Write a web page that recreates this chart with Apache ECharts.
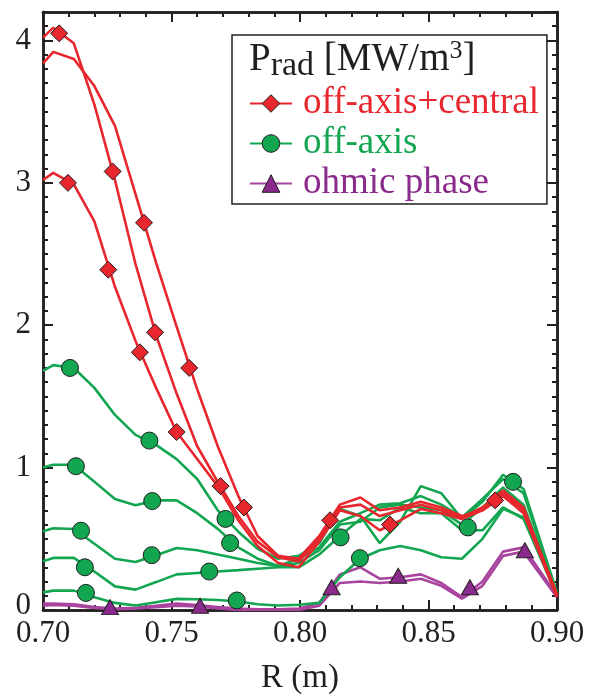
<!DOCTYPE html>
<html>
<head>
<meta charset="utf-8">
<script src="https://cdn.jsdelivr.net/npm/echarts@6/dist/echarts.min.js"></script>
<style>
  html, body { margin: 0; padding: 0; background: #fff; }
  #chart { width: 594px; height: 700px; }
</style>
</head>
<body>
<div id="chart"></div>
<script>
// Major radius grid (m) shared by every profile
const R = [0.700, 0.704, 0.712, 0.720, 0.728, 0.736, 0.744, 0.752, 0.760, 0.768, 0.776, 0.7835, 0.7915,
           0.7995, 0.8075, 0.8155, 0.8235, 0.831, 0.839, 0.847, 0.855, 0.863, 0.871, 0.879, 0.887, 0.900];

// Radiated power density profiles, MW/m^3 — off-axis + central heating
const centralA = [4.02, 4.09, 3.98, 3.55, 3.02, 2.43, 1.93, 1.52, 1.15, 0.90, 0.66, 0.48, 0.37,
                  0.34, 0.50, 0.72, 0.74, 0.66, 0.70, 0.74, 0.70, 0.65, 0.72, 0.84, 0.72, 0.10];
const centralB = [3.84, 3.92, 3.87, 3.68, 3.40, 2.92, 2.44, 1.99, 1.55, 1.15, 0.80, 0.52, 0.38,
                  0.36, 0.52, 0.74, 0.79, 0.70, 0.72, 0.76, 0.72, 0.66, 0.70, 0.82, 0.70, 0.11];
const centralC = [3.02, 3.07, 2.99, 2.73, 2.27, 1.89, 1.56, 1.25, 1.06, 0.87, 0.63, 0.45, 0.33,
                  0.30, 0.48, 0.70, 0.66, 0.56, 0.63, 0.71, 0.68, 0.64, 0.70, 0.80, 0.68, 0.09];

// off-axis heating only
const offAxis1 = [1.68, 1.72, 1.70, 1.56, 1.37, 1.23, 1.16, 1.06, 0.92, 0.70, 0.55, 0.43, 0.36,
                  0.38, 0.47, 0.71, 0.66, 0.47, 0.62, 0.87, 0.82, 0.64, 0.76, 0.95, 0.85, 0.12];
const offAxis2 = [1.00, 1.02, 1.02, 0.90, 0.78, 0.735, 0.77, 0.77, 0.68, 0.57, 0.44, 0.36, 0.31,
                  0.36, 0.44, 0.62, 0.68, 0.74, 0.75, 0.80, 0.74, 0.65, 0.78, 0.92, 0.82, 0.11];
const offAxis3 = [0.553, 0.574, 0.569, 0.465, 0.36, 0.337, 0.385, 0.435, 0.42, 0.39, 0.36, 0.33, 0.31,
                  0.33, 0.42, 0.60, 0.62, 0.72, 0.74, 0.72, 0.70, 0.60, 0.72, 0.86, 0.74, 0.10];
const offAxis4 = [0.343, 0.366, 0.366, 0.27, 0.166, 0.143, 0.196, 0.25, 0.26, 0.27, 0.28, 0.29, 0.30,
                  0.30, 0.39, 0.52, 0.64, 0.63, 0.72, 0.68, 0.68, 0.56, 0.56, 0.72, 0.64, 0.10];
const offAxis5 = [0.124, 0.136, 0.136, 0.09, 0.05, 0.032, 0.055, 0.078, 0.076, 0.07, 0.06, 0.04, 0.032,
                  0.037, 0.05, 0.23, 0.36, 0.42, 0.45, 0.42, 0.37, 0.36, 0.50, 0.71, 0.65, 0.12];

// ohmic phase
const ohmic1 = [0.045, 0.045, 0.04, 0.02, 0.01, 0.015, 0.03, 0.045, 0.035, 0.02, 0.01, 0.005, 0.005,
                0.01, 0.05, 0.25, 0.30, 0.22, 0.23, 0.25, 0.19, 0.09, 0.20, 0.41, 0.44, 0.10];
const ohmic2 = [0.03, 0.035, 0.03, 0.015, 0.005, 0.01, 0.02, 0.03, 0.025, 0.01, 0.0, 0.0, 0.0,
                0.0, 0.03, 0.19, 0.20, 0.19, 0.20, 0.22, 0.17, 0.08, 0.17, 0.38, 0.41, 0.09];

// Marker positions [R, P_rad] along the profiles
const diamondPts = [[0.7063, 4.05], [0.7097, 3.00], [0.7271, 3.08], [0.7254, 2.39], [0.7393, 2.72],
                    [0.7377, 1.81], [0.7436, 1.95], [0.7520, 1.25], [0.7569, 1.70], [0.7691, 0.87],
                    [0.7782, 0.72], [0.8117, 0.63], [0.8350, 0.60], [0.8759, 0.77]];
const circlePts = [[0.7105, 1.70], [0.7414, 1.19], [0.7710, 0.64], [0.7128, 1.01], [0.7425, 0.765],
                   [0.7728, 0.47], [0.7148, 0.557], [0.7423, 0.385], [0.7163, 0.30], [0.7647, 0.27],
                   [0.7167, 0.12], [0.7754, 0.067], [0.8158, 0.51], [0.8233, 0.364], [0.8653, 0.58],
                   [0.8829, 0.90]];
const trianglePts = [[0.7261, 0.02], [0.7611, 0.03], [0.8123, 0.16], [0.8382, 0.24], [0.8661, 0.16],
                     [0.8875, 0.42]];

// Axis tick values
const xMajorStep = 0.05, xMinorStep = 0.01;
const yMajorStep = 1, yMinorStep = 0.1;

const FONT = "'Liberation Serif', 'Times New Roman', serif";
const INK = '#231f20';
const RED = '#e8262d';
const GREEN = '#12a650';
const PURPLE_LINE = '#a8449e';
const PURPLE = '#8a2a8c';

const NAME_C = 'off-axis+central';
const NAME_O = 'off-axis';
const NAME_H = 'ohmic phase';

const toPairs = arr => R.map((r, i) => [r, arr[i]]);

function profile(name, values, color, symbol, fill) {
  return {
    type: 'line', name, data: toPairs(values),
    showSymbol: false, symbol, symbolSize: 17,
    lineStyle: { color, width: 2.6 },
    itemStyle: { color: fill, borderColor: INK, borderWidth: 1 },
    silent: true, z: 2
  };
}
function markers(name, pts, color, symbol, size) {
  return {
    type: 'scatter', name, data: pts, symbol, symbolSize: size,
    itemStyle: { color, borderColor: INK, borderWidth: 1, opacity: 1 },
    silent: true, z: 5
  };
}

const series = [
  profile(NAME_H, ohmic1, PURPLE_LINE, 'triangle', PURPLE),
  profile(NAME_H, ohmic2, PURPLE_LINE, 'triangle', PURPLE),
  profile(NAME_O, offAxis1, GREEN, 'circle', GREEN),
  profile(NAME_O, offAxis2, GREEN, 'circle', GREEN),
  profile(NAME_O, offAxis3, GREEN, 'circle', GREEN),
  profile(NAME_O, offAxis4, GREEN, 'circle', GREEN),
  profile(NAME_O, offAxis5, GREEN, 'circle', GREEN),
  profile(NAME_C, centralC, RED, 'diamond', RED),
  profile(NAME_C, centralB, RED, 'diamond', RED),
  profile(NAME_C, centralA, RED, 'diamond', RED),
  markers(NAME_H, trianglePts, PURPLE, 'triangle', [17, 15]),
  markers(NAME_O, circlePts, GREEN, 'circle', 17),
  markers(NAME_C, diamondPts, RED, 'diamond', 17)
];

const lineStyle = { color: INK, width: 2.5 };
function xAxis(position, step, tickLen, labels) {
  return {
    type: 'value', position, min: 0.7, max: 0.9, interval: step,
    axisLine: { show: true, onZero: false, lineStyle },
    axisTick: { show: true, inside: true, length: tickLen, lineStyle: { color: INK, width: 2 } },
    axisLabel: labels ? {
      show: true, margin: 8, fontSize: 31, fontFamily: FONT, color: INK,
      formatter: v => v.toFixed(2)
    } : { show: false },
    splitLine: { show: false },
    name: labels ? 'R (m)' : '', nameLocation: 'middle', nameGap: 52,
    nameTextStyle: { fontSize: 33, fontFamily: FONT, color: INK }
  };
}
function yAxis(position, step, tickLen, labels) {
  return {
    type: 'value', position, min: 0, max: 4.2, interval: step,
    axisLine: { show: true, onZero: false, lineStyle },
    axisTick: { show: true, inside: true, length: tickLen, lineStyle: { color: INK, width: 2 } },
    axisLabel: labels ? {
      show: true, margin: 12, fontSize: 31, fontFamily: FONT, color: INK,
      showMaxLabel: false,
      formatter: v => v === 0 ? '{z|0}' : (Number.isInteger(v) ? String(v) : ''),
      rich: { z: { fontSize: 31, fontFamily: FONT, color: INK, padding: [0, 0, 8, 0] } }
    } : { show: false },
    splitLine: { show: false }
  };
}

const richBase = { fontFamily: FONT, color: INK, fontWeight: 'normal' };
const chart = echarts.init(document.getElementById('chart'), null, { renderer: 'canvas' });
chart.setOption({
  animation: false,
  backgroundColor: '#fff',
  grid: { left: 43, right: 37, top: 12, bottom: 82 },
  title: {
    left: 244, top: 31,
    text: '{p|P}{s|rad}{n| [MW/m}{u|3}{n|]}',
    textStyle: {
      fontFamily: FONT, color: INK, fontSize: 39, fontWeight: 'normal',
      rich: {
        p: Object.assign({ fontSize: 39 }, richBase),
        n: Object.assign({ fontSize: 39 }, richBase),
        s: Object.assign({ fontSize: 34, padding: [13, 0, 0, 0] }, richBase),
        u: Object.assign({ fontSize: 26, padding: [0, 0, 16, 0] }, richBase)
      }
    }
  },
  legend: {
    orient: 'vertical', left: 232, top: 35,
    padding: [50, 8, 2, 17], itemGap: 3,
    itemWidth: 42, itemHeight: 22,
    borderColor: INK, borderWidth: 1.5,
    selectedMode: false,
    itemStyle: { borderColor: INK, borderWidth: 1 },
    textStyle: { fontFamily: FONT, fontSize: 37, padding: [0, 0, 0, 6] },
    data: [
      { name: NAME_C, textStyle: { color: RED } },
      { name: NAME_O, textStyle: { color: GREEN } },
      { name: NAME_H, textStyle: { color: PURPLE } }
    ]
  },
  xAxis: [
    xAxis('bottom', xMajorStep, 10, true),
    xAxis('bottom', xMinorStep, 5, false),
    xAxis('top', xMajorStep, 10, false),
    xAxis('top', xMinorStep, 5, false)
  ],
  yAxis: [
    yAxis('left', yMajorStep, 10, true),
    yAxis('left', yMinorStep, 5, false),
    yAxis('right', yMajorStep, 10, false),
    yAxis('right', yMinorStep, 5, false)
  ],
  series
});
</script>
</body>
</html>
